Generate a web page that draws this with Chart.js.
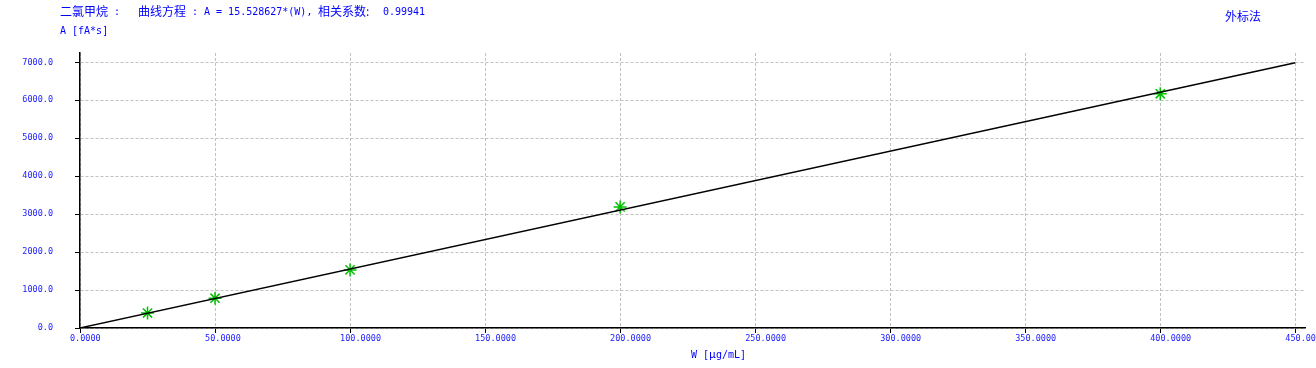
<!DOCTYPE html>
<html><head><meta charset="utf-8">
<script src="https://cdn.jsdelivr.net/npm/chart.js@4/dist/chart.umd.min.js"></script>
<style>
html,body{margin:0;padding:0;background:#fff;}
#wrap{position:relative;width:1316px;height:368px;overflow:hidden;}
canvas{position:absolute;left:0;top:0;}
.t{position:absolute;color:#0000ff;white-space:pre;line-height:1;}
.cjk{font-family:"Noto Sans CJK SC",sans-serif;font-size:12px;}
.mono{font-family:"DejaVu Sans Mono",monospace;font-size:10px;}
</style></head>
<body><div id="wrap">
<canvas id="c" width="1316" height="368"></canvas>
<span class="t cjk" style="left:60px;top:5px">二氯甲烷</span>
<span class="t mono" style="left:114px;top:7px">:</span>
<span class="t cjk" style="left:138px;top:5px">曲线方程</span>
<span class="t mono" style="left:192px;top:7px">: A = 15.528627*(W),</span>
<span class="t cjk" style="left:318px;top:5px">相关系数:</span>
<span class="t mono" style="left:383px;top:7px">0.99941</span>
<span class="t mono" style="left:60px;top:26px">A [fA*s]</span>
<span class="t cjk" style="left:1225px;top:10px">外标法</span>
<span class="t mono" style="left:691px;top:348px">W [<span class="cjk" style="font-size:11px">μ</span>g/mL]</span>
</div>
<script>
const concX = [25, 50, 100, 200, 400];
const areaY = [395, 785, 1530, 3190, 6170];
const fitX = [0, 450];
const fitY = [0, 6987.9];
const xTicks = [0, 50, 100, 150, 200, 250, 300, 350, 400, 450];
const yTicks = [0, 1000, 2000, 3000, 4000, 5000, 6000, 7000];

const blue = '#2020ff';
new Chart(document.getElementById('c'), {
  type: 'scatter',
  data: {
    datasets: [
      {
        data: fitX.map((x, i) => ({x, y: fitY[i]})),
        showLine: true, borderColor: '#000', borderWidth: 1.4,
        pointRadius: 0, fill: false
      },
      {
        data: concX.map((x, i) => ({x, y: areaY[i]})),
        pointStyle: 'star', pointRadius: 6.5, borderColor: '#00c000',
        backgroundColor: '#00c000', pointBorderWidth: 1.5, showLine: false
      }
    ]
  },
  options: {
    responsive: false, animation: false,
    layout: { padding: { top: 53, right: 11, left: 0, bottom: 0 } },
    plugins: { legend: { display: false }, tooltip: { enabled: false } },
    scales: {
      x: {
        type: 'linear', min: 0, max: 453.6,
        afterBuildTicks: s => { s.ticks = xTicks.map(v => ({value: v})); },
        afterFit: s => { s.height = 40; s.paddingLeft = 0; s.paddingRight = 0; },
        border: { display: true, color: '#000', width: 1.5, dash: [3, 2] },
        grid: { color: '#c0c0c0', tickColor: '#000', tickLength: 5, tickBorderDash: [] },
        ticks: { color: blue, padding: 1, maxRotation: 0, autoSkip: false,
          align: 'start', labelOffset: -10,
          font: { family: 'DejaVu Sans Mono', size: 8.5 },
          callback: v => Number(v).toFixed(4) }
      },
      y: {
        type: 'linear', min: 0, max: 7245,
        afterBuildTicks: s => { s.ticks = yTicks.map(v => ({value: v})); },
        afterFit: s => { s.width = 80; s.paddingTop = 0; s.paddingBottom = 0; },
        border: { display: true, color: '#000', width: 1.5, dash: [3, 2] },
        grid: { color: '#c0c0c0', tickColor: '#000', tickLength: 5, tickBorderDash: [] },
        ticks: { color: blue, padding: 22, autoSkip: false,
          font: { family: 'DejaVu Sans Mono', size: 8.5 },
          callback: v => Number(v).toFixed(1) }
      }
    }
  }
});
</script>
</body></html>
